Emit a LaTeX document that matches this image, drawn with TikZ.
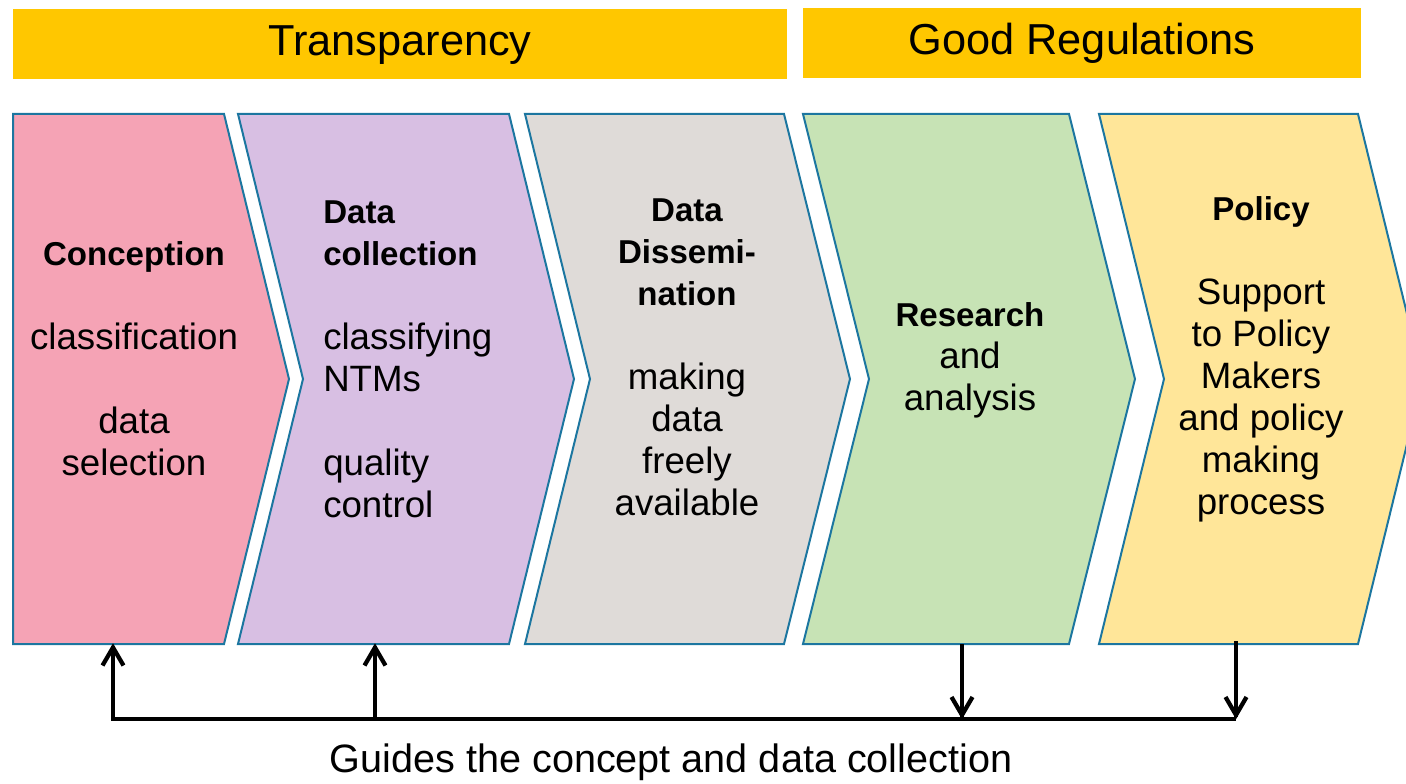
\documentclass[tikz,border=0pt]{standalone}
\usepackage{fontspec}
\setmainfont{Liberation Sans}

\definecolor{banner}{RGB}{255,199,0}
\definecolor{edge}{RGB}{28,118,160}
\definecolor{fillA}{RGB}{245,163,181}
\definecolor{fillB}{RGB}{216,191,227}
\definecolor{fillC}{RGB}{223,219,216}
\definecolor{fillD}{RGB}{199,227,181}
\definecolor{fillE}{RGB}{255,230,153}

% body text sizes (regular and bold share one line pitch)
\newcommand\txtreg{\fontsize{27.5}{31.5}\selectfont}
\newcommand\txtbold{\fontsize{24.8}{31.5}\selectfont\bfseries}
\newcommand\gapline{\\[31.5pt]}
% open V arrowheads drawn at a named point
\newcommand\headup[1]{\draw[fb,line join=miter] (#1) ++(-10.5,20) -- ++(10.5,-18) -- ++(10.5,18);}
\newcommand\headdown[1]{\draw[fb,line join=miter] (#1) ++(-10.5,-20) -- ++(10.5,18) -- ++(10.5,-18);}

\begin{document}
\begin{tikzpicture}[x=0.75pt,y=-0.75pt,
  chev/.style={draw=edge,line width=1.5pt,line join=miter},
  headbox/.style={fill=banner,draw=none},
  headtext/.style={font=\fontsize{32.5}{36}\selectfont,inner sep=0pt},
  stagetext/.style={inner sep=0pt,align=center,font=\txtreg},
  fb/.style={line width=3.2pt,black}
]
\useasboundingbox (0,0) rectangle (1406,784);
\clip (0,0) rectangle (1406,784);

% heading bands
\fill[headbox] (13,9) rectangle (787,79);
\fill[headbox] (803,8) rectangle (1361,78);
\node[headtext] (transp) at (400,45) {Transparency};
\node[headtext] (goodreg) at (1082,43) {Good Regulations};

% process chevrons
\draw[chev,fill=fillA] (13,114) -- (224,114) -- (289,379) -- (224,644) -- (13,644) -- cycle;
\draw[chev,fill=fillB] (238,114) -- (509,114) -- (574,379) -- (509,644) -- (238,644) -- (303,379) -- cycle;
\draw[chev,fill=fillC] (525,114) -- (784,114) -- (850,379) -- (784,644) -- (525,644) -- (590,379) -- cycle;
\draw[chev,fill=fillD] (803,114) -- (1069,114) -- (1135,379) -- (1069,644) -- (803,644) -- (869,379) -- cycle;
\draw[chev,fill=fillE] (1099,114) -- (1358,114) -- (1423,379) -- (1358,644) -- (1099,644) -- (1164,379) -- cycle;

% stage texts
\node[stagetext] (concept) at (134,359)
  {{\txtbold Conception}\gapline classification\gapline data\\ selection};
\node[stagetext,align=left,anchor=west] (collect) at (323,359)
  {{\txtbold Data}\\ {\txtbold collection}\gapline classifying\\ NTMs\gapline quality\\ control};
\node[stagetext] (dissem) at (687,357)
  {{\txtbold Data}\\ {\txtbold Dissemi-}\\ {\txtbold nation}\gapline making\\ data\\ freely\\ available};
\node[stagetext] (research) at (970,360)
  {{\txtbold Research}\\ and\\ analysis};
\node[stagetext] (policy) at (1261,359)
  {{\txtbold Policy}\gapline Support\\ to Policy\\ Makers\\ and policy\\ making\\ process};

% feedback loop anchors (tip points sit just inside the line ends)
\coordinate (c1b) at (113,645.5);
\coordinate (c1f) at (113,719);
\coordinate (c2b) at (375,645.5);
\coordinate (c2f) at (375,719);
\coordinate (c4b) at (962,644);
\coordinate (c4t) at (962,717);
\coordinate (c5b) at (1236,641);
\coordinate (c5t) at (1236,717);
\coordinate (c5f) at (1236,719);

\draw[fb,line join=miter] (c1b) -- (c1f) -- (c5f);
\draw[fb] (c2f) -- (c2b);
\draw[fb] (c4b) -- (c4t);
\draw[fb] (c5b) -- (c5t);
\headup{c1b}
\headup{c2b}
\headdown{c4t}
\headdown{c5t}

\node[inner sep=0pt,font=\fontsize{29.7}{34}\selectfont] (guide) at (671,762)
  {Guides the concept and data collection};
\end{tikzpicture}
\end{document}
